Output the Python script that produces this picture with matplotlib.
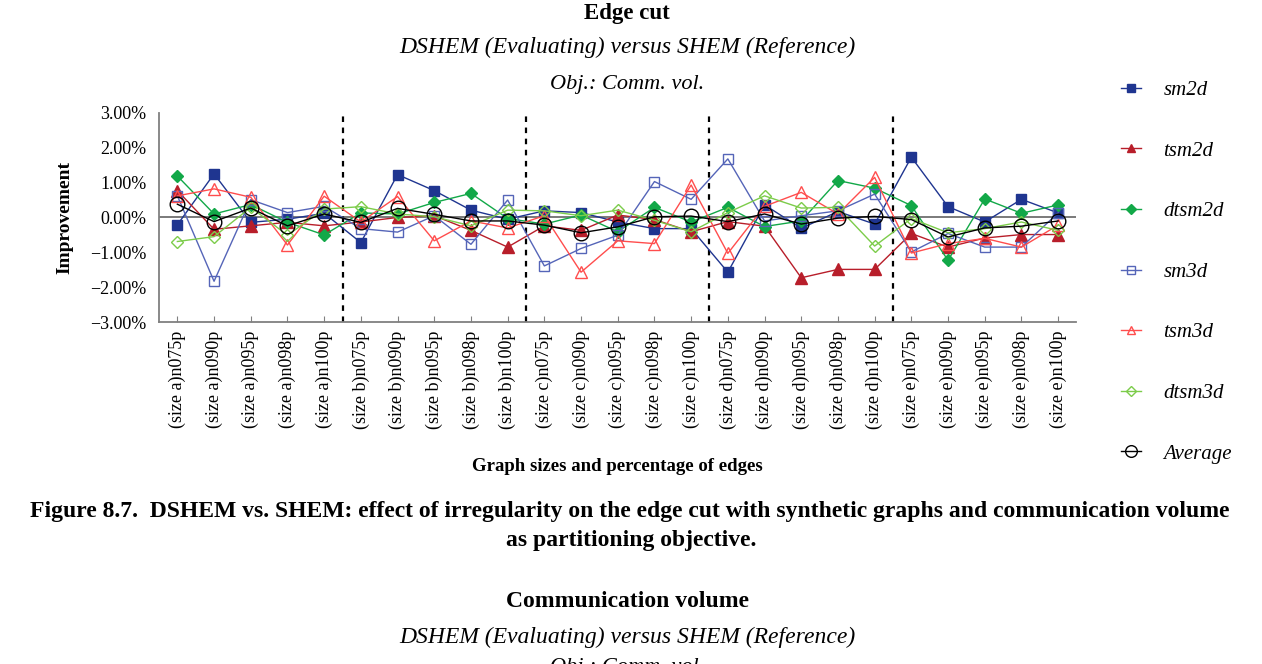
import matplotlib
matplotlib.use("Agg")
import matplotlib.pyplot as plt
import numpy as np
from matplotlib.lines import Line2D

plt.rcParams["font.family"] = ["Liberation Serif", "DejaVu Serif"]

# ---------------------------------------------------------------------------
# Data (improvement in %)
# ---------------------------------------------------------------------------
sizes = ["a", "b", "c", "d", "e"]
pcts = ["075", "090", "095", "098", "100"]
categories = [f"(size {s})n{p}p" for s in sizes for p in pcts]

sm2d = [-0.21, 1.25, -0.14, -0.05, 0.12,
        -0.72, 1.23, 0.77, 0.21, -0.05,
        0.19, 0.14, -0.13, -0.32, -0.32,
        -1.57, 0.36, -0.31, 0.17, -0.19,
        1.73, 0.31, -0.13, 0.52, 0.13]
tsm2d = [0.77, -0.34, -0.24, -0.14, -0.24,
         -0.13, 0.00, 0.05, -0.37, -0.85,
         -0.24, -0.37, 0.07, -0.06, -0.41,
         -0.12, -0.25, -1.73, -1.49, -1.49,
         -0.46, -0.85, -0.59, -0.49, -0.49]
dtsm2d = [1.19, 0.10, 0.37, -0.14, -0.50,
          0.13, 0.10, 0.43, 0.69, -0.03,
          -0.19, 0.07, -0.41, 0.29, -0.13,
          0.29, -0.26, -0.10, 1.06, 0.84,
          0.34, -1.23, 0.53, 0.12, 0.36]
sm3d = [0.62, -1.83, 0.51, 0.14, 0.32,
        -0.32, -0.42, 0.05, -0.77, 0.50,
        -1.39, -0.89, -0.51, 1.03, 0.52,
        1.68, -0.10, 0.05, 0.19, 0.67,
        -0.99, -0.46, -0.85, -0.85, 0.13]
tsm3d = [0.62, 0.82, 0.58, -0.79, 0.61,
         -0.13, 0.60, -0.67, -0.10, -0.30,
         0.05, -1.57, -0.67, -0.75, 0.93,
         -1.03, 0.32, 0.72, 0.10, 1.15,
         -1.02, -0.75, -0.60, -0.85, -0.22]
dtsm3d = [-0.69, -0.55, 0.29, -0.51, 0.24,
          0.31, 0.10, 0.02, -0.24, 0.21,
          0.19, 0.05, 0.21, -0.08, -0.41,
          0.14, 0.62, 0.27, 0.29, -0.82,
          -0.03, -0.44, -0.32, -0.13, -0.37]
average = [0.38, -0.12, 0.27, -0.24, 0.10,
           -0.14, 0.26, 0.09, -0.10, -0.10,
           -0.22, -0.44, -0.27, 0.02, 0.04,
           -0.12, 0.10, -0.19, -0.02, 0.03,
           -0.06, -0.56, -0.30, -0.25, -0.10]

# (label, values, colour, marker, filled, marker size)
series = [
    ("sm2d", sm2d, "#1f3590", "s", True, 6.5),
    ("tsm2d", tsm2d, "#b81e2a", "^", True, 8),
    ("dtsm2d", dtsm2d, "#12a848", "D", True, 6.5),
    ("sm3d", sm3d, "#5565b8", "s", False, 6.5),
    ("tsm3d", tsm3d, "#ff4d4d", "^", False, 8),
    ("dtsm3d", dtsm3d, "#7ccc4a", "D", False, 6),
    ("Average", average, "black", "o", False, 10.5),
]

# ---------------------------------------------------------------------------
# Figure
# ---------------------------------------------------------------------------
fig = plt.figure(figsize=(12.62, 6.64), dpi=100)
ax = fig.add_axes([0.126, 0.515, 0.727, 0.315])

x = np.arange(len(categories)) + 0.5

handles = []
for label, vals, col, mk, filled, ms in series:
    fc = col if filled else "none"
    ax.plot(x, vals, color=col, lw=1.0, marker=mk, ms=ms,
            markerfacecolor=fc, markeredgecolor=col, markeredgewidth=1.0,
            zorder=3 if label != "Average" else 4)
    handles.append(Line2D([0], [0], color=col, lw=1.0, marker=mk,
                          ms=ms * 0.8, markerfacecolor=fc,
                          markeredgecolor=col, label=label))

ax.axhline(0, color="#707070", lw=1.3, zorder=2)
for xv in (5, 10, 15, 20):
    ax.axvline(xv, color="black", lw=1.6, ls=(0, (2.5, 2.5)), zorder=2)

ax.set_xlim(0, len(categories))
ax.set_ylim(-3, 3)
ax.set_yticks(np.arange(-3, 4, 1))
ax.set_yticklabels([f"{v:.2f}%".replace("-", "\u2212") for v in np.arange(-3, 4, 1)],
                   fontsize=13)
ax.set_xticks(x)
ax.set_xticklabels(categories, rotation=90, fontsize=13)
ax.tick_params(axis="x", direction="in", length=4, color="#808080", pad=6)
ax.tick_params(axis="y", length=0, pad=9)

for s in ("top", "right"):
    ax.spines[s].set_visible(False)
for s in ("left", "bottom"):
    ax.spines[s].set_color("#808080")
    ax.spines[s].set_linewidth(1.3)

ax.set_ylabel("Improvement", fontsize=14, fontweight="bold", labelpad=12)
ax.set_xlabel("Graph sizes and percentage of edges", fontsize=13.5,
              fontweight="bold", labelpad=21)

leg = fig.legend(handles=handles, loc="upper left",
                 bbox_to_anchor=(0.888, 0.879), frameon=False,
                 prop={"style": "italic", "size": 15},
                 labelspacing=1.97, handlelength=1.0, handletextpad=1.05,
                 borderpad=0, borderaxespad=0)

# titles
fig.text(0.497, 0.979, "Edge cut", ha="center", va="center",
         fontsize=16.5, fontweight="bold")
fig.text(0.497, 0.928, "DSHEM (Evaluating) versus SHEM (Reference)",
         ha="center", va="center", fontsize=17, style="italic")
fig.text(0.497, 0.873, "Obj.: Comm. vol.", ha="center", va="center",
         fontsize=16, style="italic")

# caption and next chart heading
fig.text(0.499, 0.230,
         "Figure 8.7.  DSHEM vs. SHEM: effect of irregularity on the edge cut "
         "with synthetic graphs and communication volume",
         ha="center", va="center", fontsize=17, fontweight="bold")
fig.text(0.5, 0.186, "as partitioning objective.", ha="center", va="center",
         fontsize=17, fontweight="bold")
fig.text(0.497, 0.094, "Communication volume", ha="center", va="center",
         fontsize=17, fontweight="bold")
fig.text(0.497, 0.040, "DSHEM (Evaluating) versus SHEM (Reference)",
         ha="center", va="center", fontsize=17, style="italic")
fig.text(0.497, -0.005, "Obj.: Comm. vol.", ha="center", va="center",
         fontsize=16, style="italic")

fig.savefig("out.png", dpi=100)
